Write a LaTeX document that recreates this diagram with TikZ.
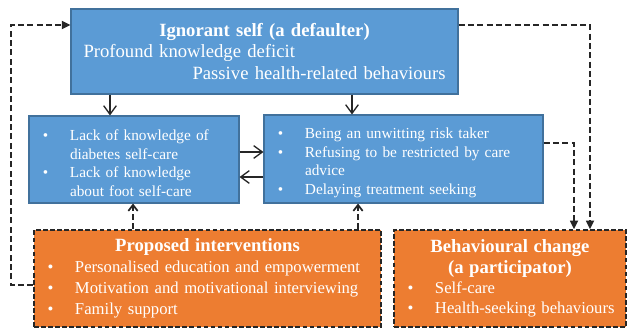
\documentclass[tikz,border=0pt]{standalone}
\usepackage{fontspec}
\setmainfont{Liberation Serif}
\usetikzlibrary{arrows.meta}

\definecolor{boxblue}{HTML}{5B9BD5}
\definecolor{edgeblue}{HTML}{41719C}
\definecolor{boxorange}{HTML}{ED7D31}
\definecolor{edgedark}{HTML}{262626}

\newlength{\bulpos}\setlength{\bulpos}{12.4pt}
\newlength{\itemind}\setlength{\itemind}{30.75pt}
\newcommand{\bitem}[1]{\par\hangindent=\itemind\hangafter=1\noindent
  \makebox[\itemind][l]{\hspace{\bulpos}\makebox[0pt]{\textbullet}}#1\par}

\begin{document}
\begin{tikzpicture}[x=0.75pt,y=-0.75pt,
  bluebox/.style={draw=edgeblue, line width=0.8pt, fill=boxblue, text=white, inner sep=0pt, align=left},
  orangebox/.style={draw=edgedark, line width=1.2pt, dash pattern=on 3.5pt off 1.8pt, fill=boxorange, text=white, inner sep=0pt, align=left},
  link/.style={draw=edgedark, line width=1pt, -{Straight Barb[length=6.5pt,width=9.5pt]}},
  dlink/.style={draw=edgedark, line width=1.3pt, dash pattern=on 4.5pt off 2.5pt},
  uptip/.style={-{Straight Barb[length=4.5pt,width=7pt]}},
  downtip/.style={-{Triangle[length=6.5pt,width=6pt]}}]
\useasboundingbox (0,0) rectangle (627,328);

% boxes
\node (self) [bluebox, minimum width=290.25pt, minimum height=63.75pt, text width=271.5pt,
  font=\fontsize{14}{16.1}\selectfont] at (264.5,51.5)
  {{\centering\bfseries Ignorant self (a defaulter)\par}Profound knowledge deficit\par
   {\raggedleft Passive health-related behaviours\par}};
\node (lack) [bluebox, minimum width=157.5pt, minimum height=65.25pt, text width=157.5pt,
  font=\fontsize{11.5}{13.9}\selectfont] at (134,159.5)
  {\bitem{Lack of knowledge of\newline diabetes self-care}\bitem{Lack of knowledge\newline about foot self-care}};
\node (risk) [bluebox, minimum width=209.25pt, minimum height=66pt, text width=209.25pt,
  font=\fontsize{11.5}{13.9}\selectfont] at (403.5,159)
  {\bitem{Being an unwitting risk taker}\bitem{Refusing to be restricted by care\newline advice}\bitem{Delaying treatment seeking}};
\node (plan) [orangebox, minimum width=260.25pt, minimum height=72.75pt, text width=260.25pt,
  font=\fontsize{12.5}{15.75}\selectfont] at (207.5,278.5)
  {{\centering\fontsize{14}{15.75}\selectfont\bfseries Proposed interventions\par}\bitem{Personalised education and empowerment}\bitem{Motivation and motivational interviewing}\bitem{Family support}};
\node (change) [orangebox, minimum width=174pt, minimum height=72.75pt, text width=174pt,
  font=\fontsize{12.5}{15.2}\selectfont] at (510,278.5)
  {{\centering\fontsize{14}{15.2}\selectfont\bfseries Behavioural change\\(a participator)\par}\bitem{Self-care}\bitem{Health-seeking behaviours}};

% where the connectors run
\coordinate (xa) at (110,0);
\coordinate (xb) at (352,0);
\coordinate (xc) at (133,0);
\coordinate (xd) at (358,0);
\coordinate (xe) at (574,0);
\coordinate (xf) at (590,0);
\coordinate (xg) at (11,0);
\coordinate (ya) at (0,152);
\coordinate (yb) at (0,177);
\coordinate (yc) at (0,143);
\coordinate (yd) at (0,25);
\coordinate (ye) at (0,285);

% connectors
\draw[link] (self.south -| xa) -- (lack.north -| xa);
\draw[link] (self.south -| xb) -- (risk.north -| xb);
\draw[link] (lack.east |- ya) -- (risk.west |- ya);
\draw[link] (risk.west |- yb) -- (lack.east |- yb);
\draw[dlink, uptip] (plan.north -| xc) -- (lack.south -| xc);
\draw[dlink, uptip] (plan.north -| xd) -- (risk.south -| xd);
\draw[dlink, downtip] (risk.east |- yc) -| (change.north -| xe);
\draw[dlink, downtip] (self.east |- yd) -| (change.north -| xf);
\draw[dlink, downtip] (plan.west |- ye) -| (xg |- yd) -- (self.west |- yd);
\end{tikzpicture}
\end{document}
